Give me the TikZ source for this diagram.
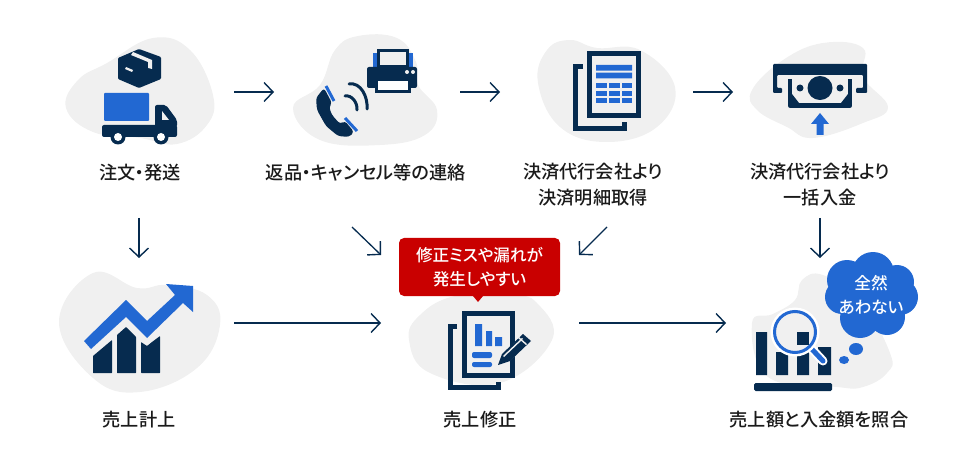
\documentclass[tikz,border=0pt]{standalone}
\usepackage{fontspec}
\setmainfont{Noto Sans CJK JP Medium}[RawFeature=+palt]
\usetikzlibrary{arrows.meta}
\definecolor{Navy}{HTML}{062B4F}
\definecolor{Blue}{HTML}{2268D2}
\definecolor{Blob}{HTML}{F0F0F0}
\definecolor{Alert}{HTML}{C90000}
\definecolor{Ink}{HTML}{1A1A1A}
\tikzset{
  every node/.append style={text=Ink},
  steplabel/.style={align=center, font=\fontsize{18.2}{26}\selectfont, inner sep=0pt},
  calloutlabel/.style={align=center, font=\fontsize{16.6}{24}\selectfont, inner sep=0pt, text=white},
  arrow/.style={-{Straight Barb[length=9pt,width=19pt,line width=1.4pt]}, line width=1.3pt, draw=Navy},
  blob/.style={fill=Blob, draw=none},
  navy/.style={fill=Navy, draw=none},
  blue/.style={fill=Blue, draw=none},
  frame/.style={draw=Navy, line width=5pt, fill=Blob},
  sheet/.style={draw=Navy, line width=5pt, fill=none},
}
\begin{document}
\begin{tikzpicture}[x=1pt,y=-1pt]
  \useasboundingbox (0,0) rectangle (960,462);
  % backgrounds
  \fill[blob] plot[smooth cycle,tension=0.7] coordinates {(153,38) (190,50) (213,95) (207,125) (177,144) (140,138) (93,132) (66,108) (78,80) (107,63)};
  \fill[blob] plot[smooth cycle,tension=0.7] coordinates {(358,36) (397,38) (416,62) (418,85) (437,110) (425,135) (380,145) (320,140) (293,108) (320,85) (335,50)};
  \fill[blob] plot[smooth cycle,tension=0.7] coordinates {(570,40) (597,48) (640,50) (675,87) (657,127) (607,142) (560,127) (538,83) (547,50)};
  \fill[blob] plot[smooth cycle,tension=0.7] coordinates {(823,43) (863,48) (863,77) (888,107) (863,123) (813,138) (787,127) (757,110) (752,90) (783,60)};
  \fill[blob] plot[smooth cycle,tension=0.7] coordinates {(93,273) (137,288) (167,285) (207,295) (220,325) (197,368) (140,392) (93,378) (59,322)};
  \fill[blob] plot[smooth cycle,tension=0.7] coordinates {(455,296) (510,295) (537,303) (552,340) (500,383) (430,373) (409,340) (420,315)};
  \fill[blob] plot[smooth cycle,tension=0.7] coordinates {(823,275) (860,300) (890,353) (887,373) (863,387) (837,387) (768,377) (752,323) (773,314) (795,300) (802,280)};
  % order and shipping
  \fill[navy, rounded corners=1pt] (118,58)--(139,49)--(161,57)--(161,79)--(139,88)--(118,79)--cycle;
  \fill[Blob] (133,52)--(152,60)--(152,69)--(148,68)--(148,62)--(131,55)--cycle;
  \fill[Blob] (126,67)--(133,70)--(132,72)--(125,69)--cycle;
  \fill[blue, rounded corners=1pt] (104,93) rectangle (149,121);
  \fill[navy, rounded corners=2pt] (102,125) rectangle (177,137);
  \fill[navy, rounded corners=2pt] (155,127)--(155,105)--(166,105)--(177,120)--(177,127)--cycle;
  \fill[Blob] (162,111)--(162,120)--(169,120)--cycle;
  \foreach \wheelx in {118,161} {
    \fill[navy] (\wheelx,137) circle (7.5);
    \fill[white] (\wheelx,137) circle (4);
  }
  % phone and printer
  \fill[blue] (373,53) rectangle (413,67);
  \draw[draw=Navy, line width=3pt, fill=Blob] (378.5,50.5) rectangle (407.5,67);
  \fill[navy, rounded corners=2pt] (367,67) rectangle (417,88);
  \draw[draw=Navy, line width=3pt, fill=white] (376,80) rectangle (409,92);
  \fill[Blob] (407,72) circle (2) (413,72) circle (2);
  \fill[navy, rounded corners=3pt] (324,88)--(332,103)--(329,107)--(332,115)--(340,124)--(345,121)--(354,132)--(349,137)--(338,136)--(326,126)--(317,110)--(316,98)--cycle;
  \draw[draw=Blue, line width=3pt] (326,86)--(334,101) (345,118)--(357,131);
  \draw[draw=Navy, line width=3pt, line cap=round] (349,84) to[out=10,in=85] (367,109);
  \draw[draw=Navy, line width=3pt, line cap=round] (345,96) to[out=10,in=85] (357,110);
  % statement
  \draw[sheet] (583,66.5)--(575.5,66.5)--(575.5,128.5)--(624.5,128.5)--(624.5,122);
  \draw[frame] (589.5,53.5) rectangle (638.5,115.5);
  \fill[blue] (596,65) rectangle (632,70.7) (596,72.7) rectangle (632,78.3);
  \foreach \cellx in {596,609,621.7} {
    \foreach \celly in {83.3,90.8,98.3} {
      \fill[blue] (\cellx,\celly) rectangle ++(10.5,5.2);
    }
  }
  % deposit
  \fill[navy, rounded corners=1pt] (773,64)--(867,64)--(867,93)--(856,93)--(856,88)--(863,88)--(863,75)--(777,75)--(777,88)--(782,88)--(782,93)--(773,93)--cycle;
  \draw[draw=Navy, line width=4.5pt, line join=round] (790,79)--(790,105.5)--(850,105.5)--(850,79);
  \fill[navy] (820,88) ellipse (12.5 and 12);
  \fill[navy] (800,88) circle (3.5) (840,88) circle (3.5);
  \fill[navy] (792,94)--(799,103)--(792,103)--cycle (848,94)--(841,103)--(848,103)--cycle;
  \fill[blue] (820,113)--(829,124)--(823.5,124)--(823.5,135)--(816.5,135)--(816.5,124)--(811,124)--cycle;
  % sales
  \fill[navy, rounded corners=0.5pt] (93,373)--(93,356)--(112,340)--(112,373)--cycle;
  \fill[navy, rounded corners=0.5pt] (117,373)--(117,335)--(126,327)--(136,337)--(136,373)--cycle;
  \fill[navy, rounded corners=0.5pt] (141,373)--(141,342)--(147,346)--(152,342)--(160,336)--(160,373)--cycle;
  \fill[blue] (84,341)--(126,300)--(147,321)--(175,295)--(166,284)--(193,286)--(193,312)--(183,303)--(147,338)--(126,317)--(91,349)--cycle;
  % correction
  \draw[sheet] (457,326.5)--(450.5,326.5)--(450.5,387.5)--(498.5,387.5)--(498.5,382);
  \draw[frame] (464.5,313.5) rectangle (512.5,375.5);
  \fill[blue] (475,324) rectangle (482,346) (486,331) rectangle (492,346) (495,337) rectangle (502,346);
  \fill[blue, rounded corners=2pt] (472,352) rectangle (492,358) (472,362) rectangle (492,367);
  \draw[Blob, line width=10pt] (504,359)--(527,338);
  \fill[navy] (498,365)--(502,354)--(523,334)--(531,341)--(510,361)--cycle;
  \fill[Blob] (503,356)--(522,338)--(523,339)--(504,357)--cycle;
  \fill[Blob] (519,337)--(527,344)--(526,345)--(518,338)--cycle;
  % comparison
  \fill[navy] (756,332) rectangle (767,375) (776,352) rectangle (788,375) (797,332) rectangle (809,375) (818,347) rectangle (831,375);
  \fill[navy, rounded corners=1.5pt] (754,383) rectangle (832,391);
  \draw[white, line width=9pt, line cap=round] (808,345)--(823,361);
  \draw[draw=Blue, line width=5pt, line cap=round] (808,345)--(823,361);
  \draw[white, line width=3pt] (795,332) circle (23);
  \begin{scope}
    \clip (795,332) circle (21);
    \fill[Blob] (770,310) rectangle (820,355);
    \fill[navy] (797,332) rectangle (809,345);
  \end{scope}
  \draw[draw=Blue, line width=3pt] (795,332) circle (20.5);
  \fill[blue] (847,280) circle (20) (873,273) circle (21) (897,282) circle (17) (900,297) circle (18) (887,317) circle (18) (860,318) circle (20) (842,297) circle (17) (872,295) circle (28);
  \fill[blue] (856,349) ellipse (7 and 6) (844,360) ellipse (5 and 4);
  \node[calloutlabel] (nomatch) at (871,295) {全然\\あわない};
  % callout
  \fill[fill=Alert, rounded corners=5pt] (399,238) rectangle (560,296);
  \fill[fill=Alert] (473,296)--(478,302)--(483,296)--cycle;
  \node[calloutlabel] (errorprone) at (479.5,267) {修正ミスや漏れが\\発生しやすい};
  % labels
  \node[steplabel] (order) at (140,173) {注文・発送};
  \node[steplabel] (contact) at (366,173) {返品・キャンセル等の連絡};
  \node[steplabel] (statement) at (593,185) {決済代行会社より\\決済明細取得};
  \node[steplabel] (deposit) at (820,185) {決済代行会社より\\一括入金};
  \node[steplabel] (sales) at (139,420) {売上計上};
  \node[steplabel] (correct) at (480,420) {売上修正};
  \node[steplabel] (compare) at (819,420) {売上額と入金額を照合};
  % connectors
  \coordinate (a1) at (234,92); \coordinate (a2) at (274,92);
  \coordinate (b1) at (460,92); \coordinate (b2) at (500,92);
  \coordinate (c1) at (693,92); \coordinate (c2) at (733,92);
  \coordinate (d1) at (139,218); \coordinate (d2) at (139,258);
  \coordinate (e1) at (352,227); \coordinate (e2) at (381,255);
  \coordinate (f1) at (607,227); \coordinate (f2) at (579,255);
  \coordinate (g1) at (820,218); \coordinate (g2) at (820,258);
  \coordinate (h1) at (234,323); \coordinate (h2) at (381,323);
  \coordinate (i1) at (579,323); \coordinate (i2) at (726,323);
  \draw[arrow] (a1)--(a2); \draw[arrow] (b1)--(b2); \draw[arrow] (c1)--(c2);
  \draw[arrow] (d1)--(d2); \draw[arrow] (e1)--(e2); \draw[arrow] (f1)--(f2);
  \draw[arrow] (g1)--(g2); \draw[arrow] (h1)--(h2); \draw[arrow] (i1)--(i2);
\end{tikzpicture}
\end{document}
